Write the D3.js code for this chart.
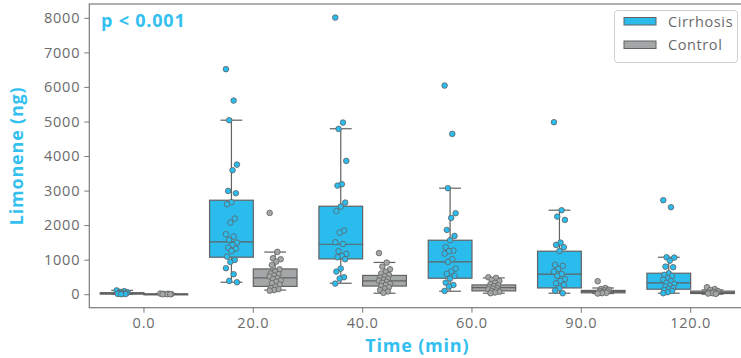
<!DOCTYPE html>
<html>
<head>
<meta charset="utf-8">
<script src="https://cdn.jsdelivr.net/npm/d3@7"></script>
<style>
  body { margin: 0; background: #fff; }
  svg { display: block; font-family: "Open Sans", sans-serif; }
</style>
</head>
<body>
<svg id="chart" width="741" height="358"></svg>
<script>
// categories / tick labels
const times = ['0.0', '20.0', '40.0', '60.0', '90.0', '120.0'];
const groups = ['Cirrhosis', 'Control'];
const yTicks = [0, 1000, 2000, 3000, 4000, 5000, 6000, 7000, 8000];

const cirrhosisPoints = [
  [110, 90, 70, 55, 40, 30, 25, 15, 10, 5, 0],
  [6514, 5605, 5037, 3752, 3590, 2990, 2924, 2663, 2605, 2189, 2073, 1737, 1668, 1572, 1494, 1427, 1349, 1320, 1253, 1089, 993, 935, 753, 579, 385, 347],
  [8008, 4968, 4785, 3859, 3184, 3144, 2652, 2536, 2403, 1841, 1783, 1505, 1456, 1245, 1167, 1109, 1071, 1013, 743, 655, 492, 452, 307],
  [6039, 4641, 3069, 2345, 2209, 1861, 1688, 1563, 1361, 1262, 1245, 1175, 1013, 935, 743, 655, 588, 530, 452, 336, 269, 220, 96],
  [4979, 2432, 2247, 2151, 1494, 1427, 1361, 1253, 848, 819, 733, 655, 588, 530, 434, 385, 318, 269, 174, 104, 29],
  [2721, 2518, 1071, 1060, 973, 799, 782, 608, 560, 530, 463, 420, 385, 330, 298, 250, 220, 180, 153, 120, 96, 60, 29]
];
const controlPoints = [
  [20, 15, 10, 5, 0, 0, 0],
  [2353, 1225, 1042, 1013, 944, 848, 723, 655, 600, 579, 540, 510, 470, 434, 400, 360, 318, 280, 220, 180, 145, 120, 104],
  [1190, 915, 800, 720, 650, 600, 560, 520, 480, 450, 420, 390, 360, 330, 300, 270, 240, 200, 160, 120, 80, 40],
  [490, 472, 420, 380, 330, 290, 260, 230, 200, 180, 160, 140, 110, 90, 70, 50, 30],
  [376, 180, 150, 130, 110, 95, 80, 60, 50, 40, 30, 20],
  [203, 150, 120, 90, 70, 50, 40, 30, 20, 10]
];

// box summaries: [whiskerLow, q1, median, q3, whiskerHigh]
const cirrhosisBoxes = [
  [0, 5, 20, 45, 110],
  [347, 1071, 1514, 2721, 5037],
  [318, 1022, 1447, 2547, 4790],
  [87, 463, 935, 1563, 3069],
  [29, 182, 579, 1245, 2432],
  [29, 145, 327, 608, 1071]
];
const controlBoxes = [
  [0, 0, 3, 10, 20],
  [120, 226, 476, 732, 1220],
  [29, 236, 385, 544, 920],
  [29, 96, 191, 269, 472],
  [20, 40, 75, 110, 180],
  [0, 20, 45, 90, 125]
];

const colors = { Cirrhosis: '#2bbcee', Control: '#a4a7a7' };
const edge = '#626262';
const textBlue = '#33bff0';
const tickGray = '#6b6b6b';

const svg = d3.select('#chart');
const margin = { left: 89.3, right: 745.3, top: 4, bottom: 307.7 };

const x = d3.scaleBand().domain(times).range([margin.left, margin.right]).padding(0);
const hue = d3.scaleBand().domain(groups).range([0.1 * x.bandwidth(), 0.9 * x.bandwidth()]);
const y = d3.scaleLinear().domain([-390, 8400]).range([margin.bottom, margin.top]);

// frame (right side falls outside the window)
svg.append('rect')
  .attr('x', margin.left).attr('y', margin.top)
  .attr('width', margin.right - margin.left).attr('height', margin.bottom - margin.top)
  .attr('fill', 'none').attr('stroke', '#7a7a7a').attr('stroke-width', 1.2);

// axes
const yAxis = svg.append('g')
  .attr('transform', 'translate(' + margin.left + ',0)')
  .call(d3.axisLeft(y).tickValues(yTicks).tickFormat(d3.format('d')).tickSize(5).tickPadding(4));
const xAxis = svg.append('g')
  .attr('transform', 'translate(0,' + margin.bottom + ')')
  .call(d3.axisBottom(x).tickSize(5).tickPadding(5));
[yAxis, xAxis].forEach(a => {
  a.select('.domain').remove();
  a.selectAll('line').attr('stroke', '#7a7a7a').attr('stroke-width', 1);
  a.selectAll('text').attr('fill', tickGray).style('font-size', '14.5px')
    .style('letter-spacing', '0.8px')
    .style('font-family', '"Open Sans", sans-serif');
});

// boxes
const series = [
  { name: 'Cirrhosis', boxes: cirrhosisBoxes, points: cirrhosisPoints },
  { name: 'Control', boxes: controlBoxes, points: controlPoints }
];
const bw = hue.bandwidth();

series.forEach(s => {
  s.boxes.forEach((b, i) => {
    const x0 = x(times[i]) + hue(s.name);
    const cx = x0 + bw / 2;
    const g = svg.append('g');
    g.append('line').attr('x1', cx).attr('x2', cx).attr('y1', y(b[3])).attr('y2', y(b[4]))
      .attr('stroke', edge).attr('stroke-width', 1.2);
    g.append('line').attr('x1', cx).attr('x2', cx).attr('y1', y(b[1])).attr('y2', y(b[0]))
      .attr('stroke', edge).attr('stroke-width', 1.2);
    g.append('line').attr('x1', cx - bw / 4).attr('x2', cx + bw / 4).attr('y1', y(b[4])).attr('y2', y(b[4]))
      .attr('stroke', edge).attr('stroke-width', 1.2);
    g.append('line').attr('x1', cx - bw / 4).attr('x2', cx + bw / 4).attr('y1', y(b[0])).attr('y2', y(b[0]))
      .attr('stroke', edge).attr('stroke-width', 1.2);
    g.append('rect').attr('x', x0).attr('width', bw)
      .attr('y', y(b[3])).attr('height', Math.max(1, y(b[1]) - y(b[3])))
      .attr('fill', colors[s.name]).attr('stroke', edge).attr('stroke-width', 1.2);
    g.append('line').attr('x1', x0).attr('x2', x0 + bw).attr('y1', y(b[2])).attr('y2', y(b[2]))
      .attr('stroke', edge).attr('stroke-width', 1.2);
  });
});

// strip points (fixed jitter pattern)
const jitter = i => ((i * 7) % 11 - 5) * 1.1;
series.forEach(s => {
  s.points.forEach((vals, i) => {
    const cx = x(times[i]) + hue(s.name) + bw / 2;
    svg.append('g').selectAll('circle')
      .data(vals)
      .enter().append('circle')
      .attr('cx', (d, j) => cx + jitter(j))
      .attr('cy', d => y(d))
      .attr('r', 2.8)
      .attr('fill', colors[s.name])
      .attr('stroke', edge)
      .attr('stroke-width', 0.8);
  });
});

// labels
svg.append('text')
  .attr('transform', 'translate(22.5,' + ((margin.top + margin.bottom) / 2) + ') rotate(-90)')
  .attr('text-anchor', 'middle')
  .attr('fill', textBlue).style('font-size', '18px').style('font-weight', 700)
  .style('letter-spacing', '0.8px')
  .text('Limonene (ng)');
svg.append('text')
  .attr('x', (margin.left + margin.right) / 2).attr('y', 352)
  .attr('text-anchor', 'middle')
  .attr('fill', textBlue).style('font-size', '18px').style('font-weight', 700)
  .style('letter-spacing', '0.8px')
  .text('Time (min)');
svg.append('text')
  .attr('x', 101).attr('y', 27)
  .attr('fill', textBlue).style('font-size', '18px').style('font-weight', 700)
  .style('letter-spacing', '0.8px')
  .text('p < 0.001');

// legend
const lg = svg.append('g');
lg.append('rect').attr('x', 614.5).attr('y', 10.5).attr('width', 123).attr('height', 52)
  .attr('rx', 3).attr('fill', '#fff').attr('stroke', '#d0d0d0');
groups.forEach((gname, i) => {
  lg.append('rect').attr('x', 624).attr('y', 17.5 + i * 23.5).attr('width', 32).attr('height', 7.5)
    .attr('fill', colors[gname]).attr('stroke', edge).attr('stroke-width', 1);
  lg.append('text').attr('x', 668).attr('y', 21.5 + i * 23.5).attr('dy', '0.35em')
    .attr('fill', tickGray).style('font-size', '14.5px').style('letter-spacing', '0.6px').text(gname);
});
</script>
</body>
</html>
